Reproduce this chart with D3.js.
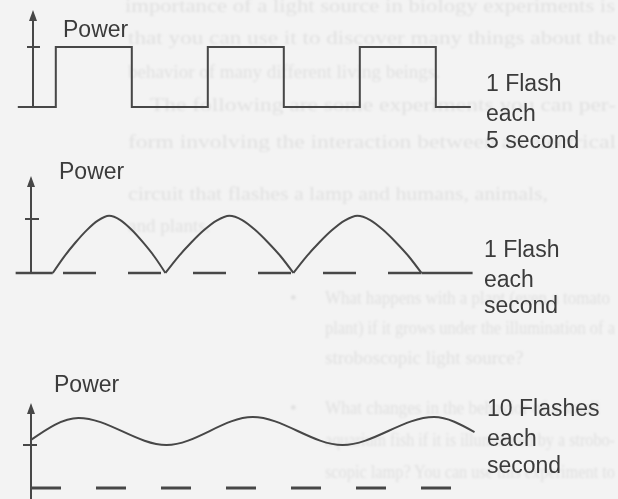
<!DOCTYPE html>
<html>
<head>
<meta charset="utf-8">
<script src="https://cdn.jsdelivr.net/npm/d3@7/dist/d3.min.js"></script>
<style>
  html, body { margin: 0; padding: 0; background: #f3f3f3; }
  svg { display: block; }
</style>
</head>
<body>
<svg id="fig" width="618" height="499"></svg>
<script>
// ---- Waveform data -------------------------------------------------------

// Panel A: one flash every 5 seconds (time in s, power on/off)
const squareTime  = [-0.5, 0.75, 3.25, 5.75, 8.25, 10.75, 13.25, 14.4];
const squarePower = [0, 1, 0, 1, 0, 1, 0, 0];

// Panel B: one flash every second, each flash an arch (time in s)
const archStart = [0.17, 1.05, 2.05];
const archEnd   = [1.05, 2.05, 3.05];
const archPhase = [0, 0.1, 0.2, 0.3, 0.4, 0.5, 0.6, 0.7, 0.8, 0.9, 1];
const archPower = [0, 0.3, 0.56, 0.79, 0.97, 1.06, 0.98, 0.8, 0.57, 0.31, 0];
const archBaseStart = -0.12, archBaseEnd = 3.45, archDashFrom = 0.25;

// Panel C: ten flashes every second, a shallow ripple (time in ms)
const rippleTime  = [0, 27, 77, 126, 177, 229, 252];
const ripplePower = [1.12, 1.63, 1.0, 1.65, 1.0, 1.65, 1.3];
const rippleDashTo = 240;

// Labels
const axisLabel = "Power";
const rateLabels = [
  ["1 Flash", "each", "5 second"],
  ["1 Flash", "each", "second"],
  ["10 Flashes", "each", "second"]
];

// Faint show-through text from the other side of the page
const pageLines = [
  {t: "importance of a light source in biology experiments is", x: 125, y: 12, w: 490},
  {t: "that you can use it to discover many things about the", x: 128, y: 44, w: 488},
  {t: "behavior of many different living beings.", x: 128, y: 78},
  {t: "The following are some experiments you can per-", x: 150, y: 111, w: 466},
  {t: "form involving the interaction between an electrical", x: 128, y: 148, w: 488},
  {t: "circuit that flashes a lamp and humans, animals,", x: 128, y: 200, w: 420},
  {t: "and plants.", x: 128, y: 232},
  {t: "•", x: 290, y: 304},
  {t: "What happens with a plant (even a tomato", x: 325, y: 304, w: 285},
  {t: "plant) if it grows under the illumination of a", x: 325, y: 334, w: 290},
  {t: "stroboscopic light source?", x: 325, y: 364},
  {t: "•", x: 290, y: 414},
  {t: "What changes in the behavior of a small", x: 325, y: 414, w: 275},
  {t: "aquarium fish if it is illuminated by a strobo-", x: 325, y: 446, w: 290},
  {t: "scopic lamp? You can use this experiment to", x: 325, y: 478, w: 290}
];

// ---- Drawing -------------------------------------------------------------
const svg = d3.select("#fig");
const ink = "#474747";
const textInk = "#3a3a3a";

svg.append("rect").attr("width", 618).attr("height", 499).attr("fill", "#f3f3f3");

const defs = svg.append("defs");
defs.append("filter").attr("id", "soft")
  .append("feGaussianBlur").attr("stdDeviation", 0.8);
defs.append("filter").attr("id", "softInk")
  .append("feGaussianBlur").attr("stdDeviation", 0.35);

// show-through text
const ghost = svg.append("g").attr("filter", "url(#soft)")
  .attr("font-family", "'Liberation Serif', 'DejaVu Serif', serif")
  .attr("font-size", 19).attr("fill", "#e0e0e0");
pageLines.forEach(l => {
  const t = ghost.append("text").attr("x", l.x).attr("y", l.y).text(l.t);
  if (l.w) t.attr("textLength", l.w).attr("lengthAdjust", "spacingAndGlyphs");
});

const fig = svg.append("g").attr("filter", "url(#softInk)");

function drawAxis(g, x0, yBase, yTip, tickY, tickL, tickR) {
  g.append("line").attr("x1", x0).attr("x2", x0).attr("y1", yBase).attr("y2", yTip + 6)
    .attr("stroke", ink).attr("stroke-width", 2);
  g.append("path")
    .attr("d", `M${x0},${yTip} L${x0 - 4},${yTip + 11} L${x0 + 4},${yTip + 11} Z`)
    .attr("fill", ink);
  g.append("line").attr("x1", x0 - tickL).attr("x2", x0 + tickR)
    .attr("y1", tickY).attr("y2", tickY)
    .attr("stroke", ink).attr("stroke-width", 2);
}

function drawLabels(g, x, ys, lines, powerX, powerY) {
  g.append("text").attr("x", powerX).attr("y", powerY).text(axisLabel);
  lines.forEach((s, i) => g.append("text").attr("x", x).attr("y", ys[i]).text(s));
}

const labels = fig.append("g")
  .attr("font-family", "'Liberation Sans', Arial, Helvetica, sans-serif")
  .attr("font-size", 23).attr("fill", textInk);

// Panel A --------------------------------------------------------------
{
  const x = d3.scaleLinear().domain([0, 15]).range([33, 33 + 15 * 30.4]);
  const y = d3.scaleLinear().domain([0, 1]).range([107, 47]);
  const g = fig.append("g");
  drawAxis(g, x(0), y(0), 10, y(1), 6, 7);
  const line = d3.line().x(d => x(d[0])).y(d => y(d[1])).curve(d3.curveStepAfter);
  g.append("path")
    .attr("d", line(squareTime.map((t, i) => [t, squarePower[i]])))
    .attr("fill", "none").attr("stroke", ink).attr("stroke-width", 2);
  drawLabels(labels, 486, [91, 121, 148], rateLabels[0], 63, 37);
}

// Panel B --------------------------------------------------------------
{
  const x = d3.scaleLinear().domain([0, 1]).range([31, 31 + 128]);
  const y = d3.scaleLinear().domain([0, 1]).range([273, 219]);
  const g = fig.append("g");
  drawAxis(g, x(0), y(0), 176, y(1), 6, 8);
  const line = d3.line().x(d => x(d[0])).y(d => y(d[1])).curve(d3.curveMonotoneX);
  archStart.forEach((s, k) => {
    const e = archEnd[k];
    const pts = archPhase.map((p, i) => [s + p * (e - s), archPower[i]]);
    g.append("path").attr("d", line(pts))
      .attr("fill", "none").attr("stroke", ink).attr("stroke-width", 2);
  });
  // zero level: solid lead-in, dashed while the lamp cycles, solid tail
  g.append("line").attr("x1", x(archBaseStart)).attr("x2", x(archStart[0]))
    .attr("y1", y(0)).attr("y2", y(0)).attr("stroke", ink).attr("stroke-width", 2.4);
  g.append("line").attr("x1", x(archDashFrom)).attr("x2", x(archEnd[archEnd.length - 1]))
    .attr("y1", y(0)).attr("y2", y(0)).attr("stroke", ink).attr("stroke-width", 2.6)
    .attr("stroke-dasharray", "33 32");
  g.append("line").attr("x1", x(archEnd[archEnd.length - 1])).attr("x2", x(archBaseEnd))
    .attr("y1", y(0)).attr("y2", y(0)).attr("stroke", ink).attr("stroke-width", 2.4);
  drawLabels(labels, 484, [257, 287, 313], rateLabels[1], 59, 179);
}

// Panel C --------------------------------------------------------------
{
  const x = d3.scaleLinear().domain([0, 100]).range([31, 31 + 176]);
  const y = d3.scaleLinear().domain([0, 1]).range([488, 445]);
  const g = fig.append("g");
  drawAxis(g, x(0), 512, 403, y(1), 8, 6);
  const line = d3.line().x(d => x(d[0])).y(d => y(d[1])).curve(d3.curveMonotoneX);
  g.append("path")
    .attr("d", line(rippleTime.map((t, i) => [t, ripplePower[i]])))
    .attr("fill", "none").attr("stroke", ink).attr("stroke-width", 2);
  g.append("line").attr("x1", x(0)).attr("x2", x(rippleDashTo))
    .attr("y1", y(0)).attr("y2", y(0)).attr("stroke", ink).attr("stroke-width", 3)
    .attr("stroke-dasharray", "30 35");
  drawLabels(labels, 487, [416, 446, 473], rateLabels[2], 54, 392);
}
</script>
</body>
</html>
